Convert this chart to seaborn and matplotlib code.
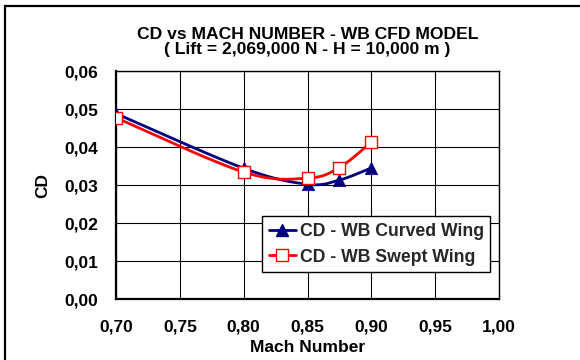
import numpy as np
import pandas as pd
import seaborn as sns
import matplotlib
matplotlib.use("Agg")
import matplotlib.pyplot as plt
from matplotlib.lines import Line2D
from matplotlib.patches import Rectangle

# Drag coefficient vs Mach number for the two wing-body configurations
mach = [0.70, 0.80, 0.85, 0.875, 0.90]
cd_curved = [0.0488, 0.0344, 0.0302, 0.0313, 0.0345]
cd_swept = [0.0477, 0.0334, 0.0318, 0.0346, 0.0413]

x_ticks = [0.70, 0.75, 0.80, 0.85, 0.90, 0.95, 1.00]
x_tick_labels = ["0,70", "0,75", "0,80", "0,85", "0,90", "0,95", "1,00"]
y_ticks = [0.00, 0.01, 0.02, 0.03, 0.04, 0.05, 0.06]
y_tick_labels = ["0,00", "0,01", "0,02", "0,03", "0,04", "0,05", "0,06"]

series_names = ["CD - WB Curved Wing", "CD - WB Swept Wing"]

sns.set_theme(style="white")
plt.rcParams["font.family"] = ["Liberation Sans", "DejaVu Sans"]
plt.rcParams["font.weight"] = "bold"


def smooth_curve(xs, ys, xspan, yspan, n=40):
    """Catmull-Rom style smoothing (Bezier with 1/6 tangents) in axis-normalised space."""
    px = np.asarray(xs) / xspan
    py = np.asarray(ys) / yspan
    pts = np.column_stack([px, py])
    out = []
    for i in range(len(pts) - 1):
        p0 = pts[i - 1] if i > 0 else pts[i]
        p1 = pts[i]
        p2 = pts[i + 1]
        p3 = pts[i + 2] if i + 2 < len(pts) else pts[i + 1]
        c1 = p1 + (p2 - p0) / 6.0
        c2 = p2 - (p3 - p1) / 6.0
        t = np.linspace(0, 1, n)[:, None]
        seg = ((1 - t) ** 3) * p1 + 3 * ((1 - t) ** 2) * t * c1 + 3 * (1 - t) * t ** 2 * c2 + t ** 3 * p2
        out.append(seg if i == 0 else seg[1:])
    out = np.vstack(out)
    return out[:, 0] * xspan, out[:, 1] * yspan


fig = plt.figure(figsize=(5.8, 3.6), dpi=100)
ax = fig.add_axes([116 / 580, 1 - 299 / 360, 383 / 580, 228 / 360])

xspan, yspan = 0.30 * 580 / 383, 0.06 * 360 / 228

navy = "#000080"
red = "#FF0000"

sx, sy = smooth_curve(mach, cd_curved, xspan, yspan)
sns.lineplot(x=sx, y=sy, sort=False, estimator=None, color=navy, lw=2.0, ax=ax, zorder=3)
sns.scatterplot(x=mach, y=cd_curved, marker="^", s=80, color=navy, edgecolor=navy,
                linewidth=0.5, ax=ax, zorder=4)

sx, sy = smooth_curve(mach, cd_swept, xspan, yspan)
sns.lineplot(x=sx, y=sy, sort=False, estimator=None, color=red, lw=2.0, ax=ax, zorder=5)
sns.scatterplot(x=mach, y=cd_swept, marker="s", s=80, color="white", edgecolor=red,
                linewidth=1.0, ax=ax, zorder=6)

ax.set_xlim(0.70, 1.00)
ax.set_ylim(0.00, 0.06)
ax.set_xticks(x_ticks)
ax.set_xticklabels(x_tick_labels)
ax.set_yticks(y_ticks)
ax.set_yticklabels(y_tick_labels)
ax.tick_params(axis="both", labelsize=12.5, length=5, width=1.0, direction="out",
               color="black", labelcolor="black")
ax.tick_params(axis="x", pad=10)
ax.tick_params(axis="y", pad=8)
for lab in ax.get_xticklabels() + ax.get_yticklabels():
    lab.set_fontweight("bold")

ax.grid(True, color="black", linewidth=0.8)
ax.set_axisbelow(True)
for side in ["left", "bottom"]:
    ax.spines[side].set_linewidth(1.6)
    ax.spines[side].set_color("black")
for side in ["top", "right"]:
    ax.spines[side].set_linewidth(1.0)
    ax.spines[side].set_color("black")

ax.set_xlabel("Mach Number", fontsize=12.5, fontweight="bold", color="black", labelpad=4)
ax.set_ylabel("CD", fontsize=12.5, fontweight="bold", color="black", labelpad=10)
ax.set_title("CD vs MACH NUMBER - WB CFD MODEL\n( Lift = 2,069,000 N - H = 10,000 m )",
             fontsize=12.6, fontweight="bold", color="black", pad=12, linespacing=1.02)

handles = [
    Line2D([0], [0], color=navy, lw=2.0, marker="^", markersize=9,
           markerfacecolor=navy, markeredgecolor=navy),
    Line2D([0], [0], color=red, lw=2.0, marker="s", markersize=9,
           markerfacecolor="white", markeredgecolor=red),
]
leg = fig.legend(handles, series_names, loc="upper left",
                 bbox_to_anchor=(262 / 580, 1 - 216 / 360),
                 prop={"family": "Liberation Sans", "weight": "bold", "size": 12.7},
                 frameon=True, fancybox=False, framealpha=1, edgecolor="black",
                 handlelength=1.55, handletextpad=0.2, borderpad=0.38, labelspacing=0.5,
                 borderaxespad=0)
leg.get_frame().set_linewidth(1.0)

# Chart-area frame
fig.patches.append(Rectangle((5 / 580, -0.1), 1.2, (1 - 6 / 360) + 0.1,
                             transform=fig.transFigure, fill=False,
                             edgecolor="black", linewidth=1.6))

fig.savefig("out.png", dpi=100)
